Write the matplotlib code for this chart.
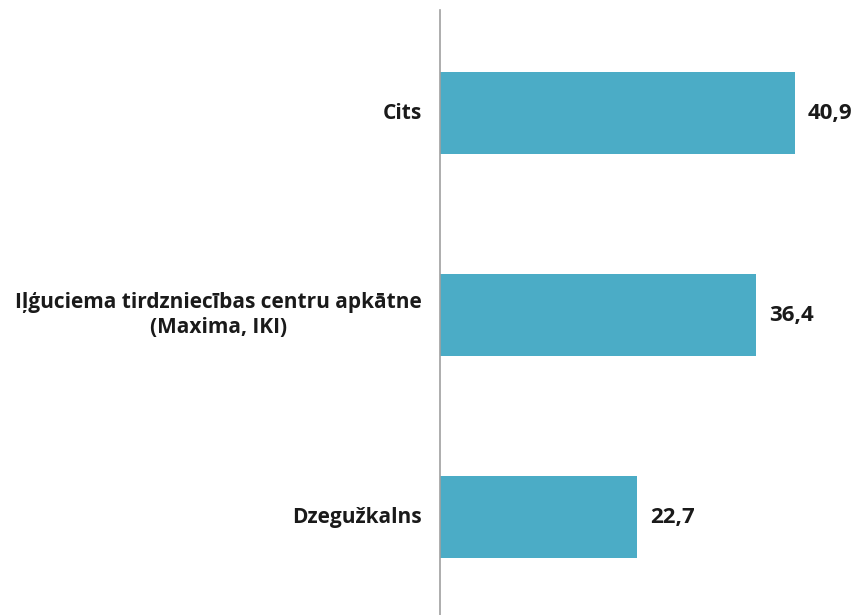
import matplotlib
matplotlib.use("Agg")
import matplotlib.pyplot as plt
from matplotlib.transforms import blended_transform_factory

categories = ["Dzegužkalns", "Iļģuciema tirdzniecības centru apkātne\n(Maxima, IKI)", "Cits"]
values = [22.7, 36.4, 40.9]
value_labels = ["22,7", "36,4", "40,9"]

plt.rcParams['font.family'] = ['Open Sans', 'DejaVu Sans']

fig = plt.figure(figsize=(8.6, 6.15), dpi=100)
ax = fig.add_axes([440/860, 0, 420/860, (615-10)/615])

pos = list(range(len(categories)))
ax.barh(pos, values, height=0.405, color="#4BACC6")
ax.set_xlim(0, 420/8.68)
ax.set_ylim(-0.485, 2.51)

for p, v, t in zip(pos, values, value_labels):
    ax.text(v + 1.5, p, t, va="center", ha="left", fontsize=16, fontweight="bold", color="#1a1a1a")

ax.set_yticks([])
ax.set_xticks([])
for s in ["top", "right", "bottom"]:
    ax.spines[s].set_visible(False)
ax.spines["left"].set_color("#A0A0A0")
ax.spines["left"].set_linewidth(1.2)

tr = blended_transform_factory(fig.transFigure, ax.transData)
for p, c in zip(pos, categories):
    ax.text(422/860, p, c, transform=tr,
            ha="right", va="center", fontsize=15, fontweight="bold", color="#1a1a1a",
            multialignment="center", linespacing=1.2)

fig.savefig("out.png", dpi=100)
